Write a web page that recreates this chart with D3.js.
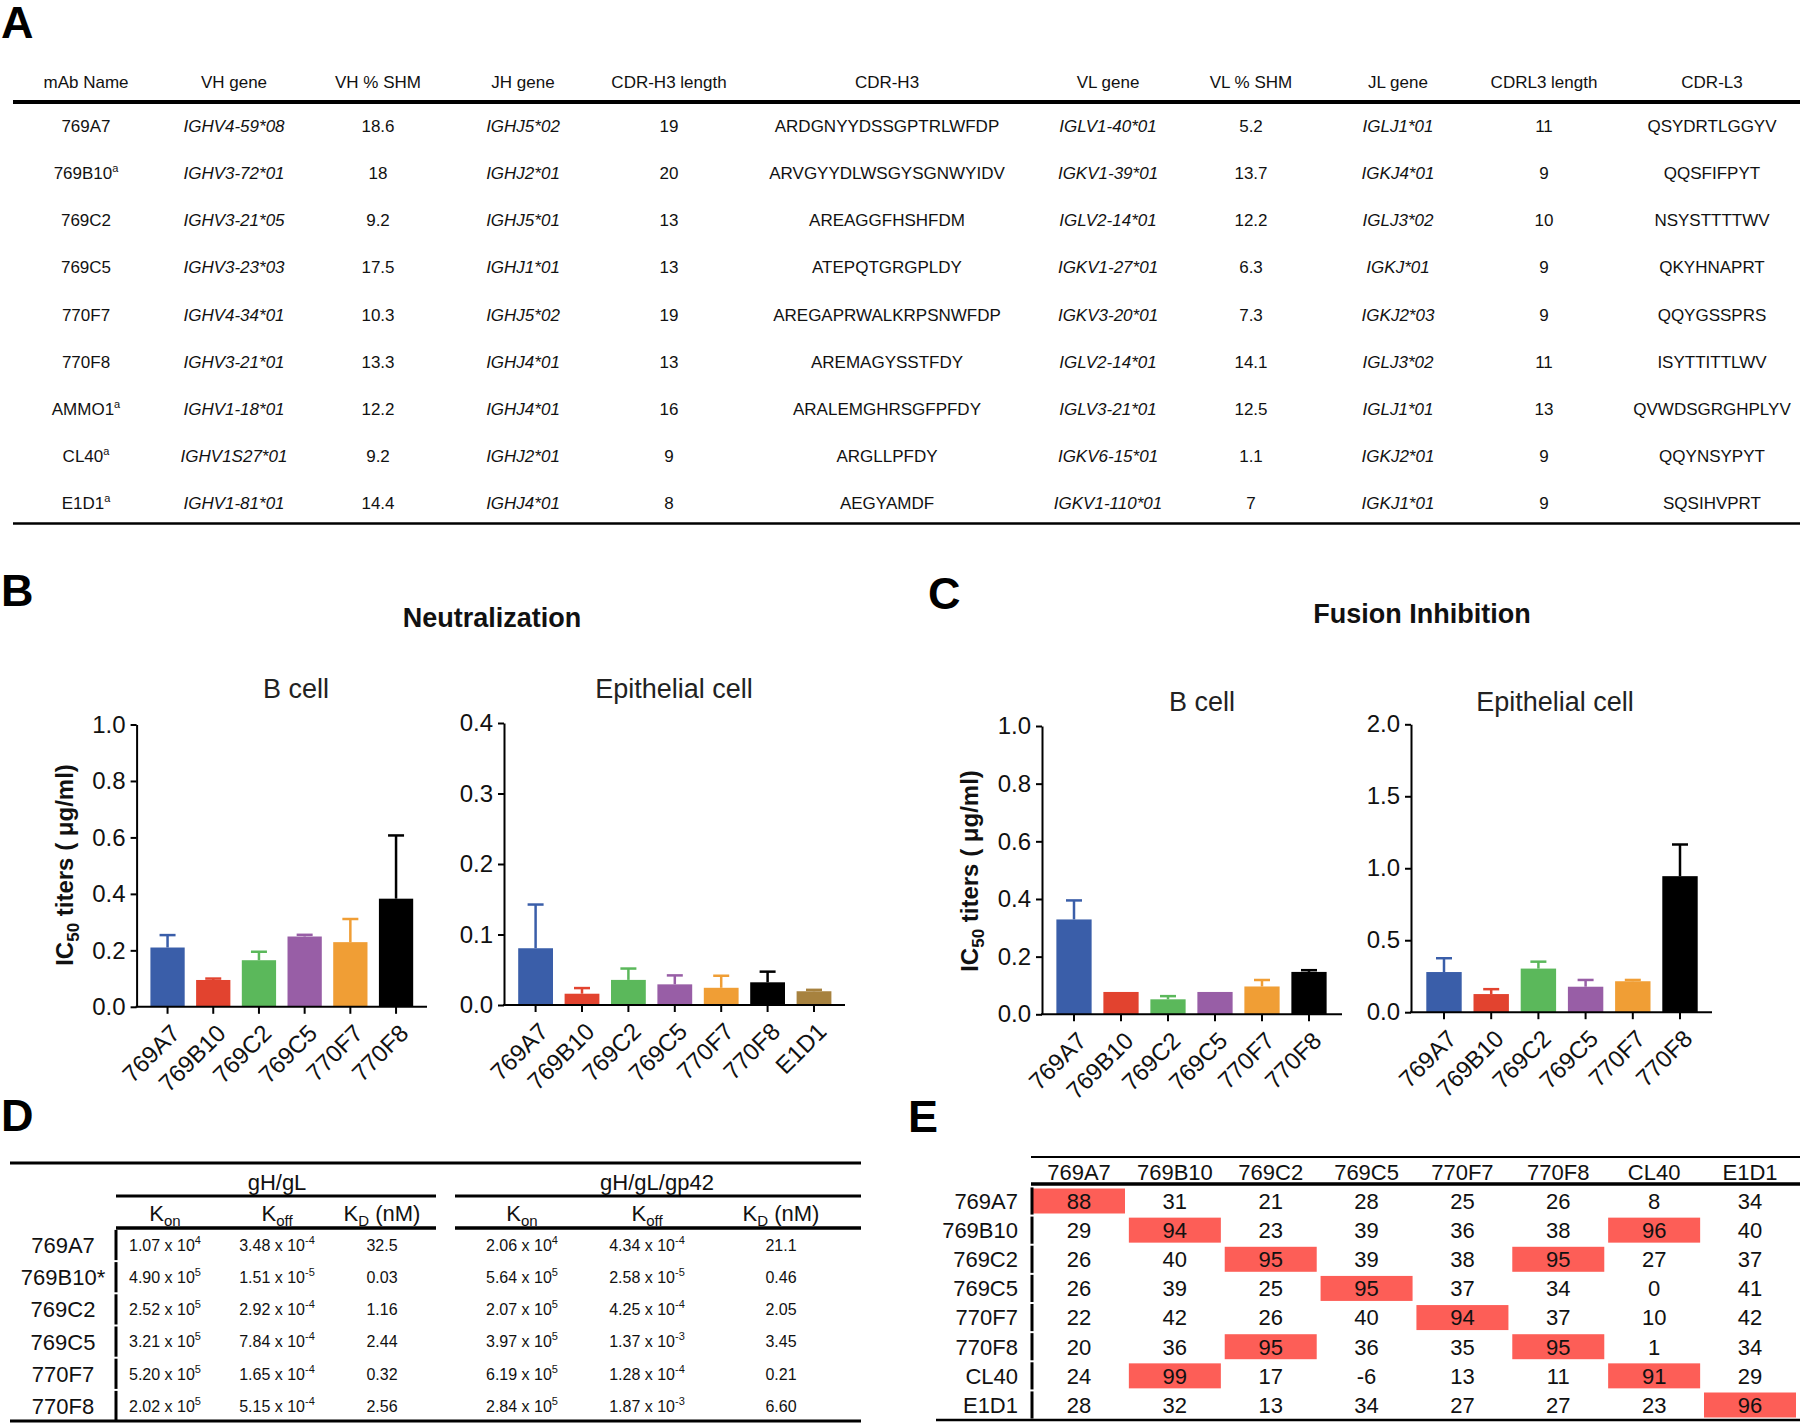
<!DOCTYPE html>
<html>
<head>
<meta charset="utf-8">
<script src="https://cdn.jsdelivr.net/npm/d3@7"></script>
<style>
  body { margin: 0; background: #fff; }
  svg { display: block; font-family: "Liberation Sans", Arial, sans-serif; }
</style>
</head>
<body>
<div id="fig"></div>
<script>
// ---- panel A: antibody gene usage ----
const mabNames = ['769A7', '769B10', '769C2', '769C5', '770F7', '770F8', 'AMMO1', 'CL40', 'E1D1'];
const mabFootnote = [false, true, false, false, false, false, true, true, true];
const vhGene = ['IGHV4-59*08', 'IGHV3-72*01', 'IGHV3-21*05', 'IGHV3-23*03', 'IGHV4-34*01', 'IGHV3-21*01', 'IGHV1-18*01', 'IGHV1S27*01', 'IGHV1-81*01'];
const vhShm = ['18.6', '18', '9.2', '17.5', '10.3', '13.3', '12.2', '9.2', '14.4'];
const jhGene = ['IGHJ5*02', 'IGHJ2*01', 'IGHJ5*01', 'IGHJ1*01', 'IGHJ5*02', 'IGHJ4*01', 'IGHJ4*01', 'IGHJ2*01', 'IGHJ4*01'];
const cdrh3Length = [19, 20, 13, 13, 19, 13, 16, 9, 8];
const cdrh3 = ['ARDGNYYDSSGPTRLWFDP', 'ARVGYYDLWSGYSGNWYIDV', 'AREAGGFHSHFDM', 'ATEPQTGRGPLDY', 'AREGAPRWALKRPSNWFDP', 'AREMAGYSSTFDY', 'ARALEMGHRSGFPFDY', 'ARGLLPFDY', 'AEGYAMDF'];
const vlGene = ['IGLV1-40*01', 'IGKV1-39*01', 'IGLV2-14*01', 'IGKV1-27*01', 'IGKV3-20*01', 'IGLV2-14*01', 'IGLV3-21*01', 'IGKV6-15*01', 'IGKV1-110*01'];
const vlShm = ['5.2', '13.7', '12.2', '6.3', '7.3', '14.1', '12.5', '1.1', '7'];
const jlGene = ['IGLJ1*01', 'IGKJ4*01', 'IGLJ3*02', 'IGKJ*01', 'IGKJ2*03', 'IGLJ3*02', 'IGLJ1*01', 'IGKJ2*01', 'IGKJ1*01'];
const cdrl3Length = [11, 9, 10, 9, 9, 11, 13, 9, 9];
const cdrl3 = ['QSYDRTLGGYV', 'QQSFIFPYT', 'NSYSTTTTWV', 'QKYHNAPRT', 'QQYGSSPRS', 'ISYTTITTLWV', 'QVWDSGRGHPLYV', 'QQYNSYPYT', 'SQSIHVPRT'];
const tableAHeaders = ['mAb Name', 'VH gene', 'VH %  SHM', 'JH gene', 'CDR-H3 length', 'CDR-H3', 'VL gene', 'VL % SHM', 'JL gene', 'CDRL3 length', 'CDR-L3'];

// ---- panels B and C: IC50 titers (mean, sd) ----
const neutBCellMabs = ['769A7', '769B10', '769C2', '769C5', '770F7', '770F8'];
const neutBCellMean = [0.210, 0.095, 0.165, 0.249, 0.229, 0.383];
const neutBCellSd = [0.044, 0.005, 0.030, 0.006, 0.082, 0.224];
const neutEpiMabs = ['769A7', '769B10', '769C2', '769C5', '770F7', '770F8', 'E1D1'];
const neutEpiMean = [0.0805, 0.0160, 0.0356, 0.0293, 0.0244, 0.0322, 0.0195];
const neutEpiSd = [0.0620, 0.0080, 0.0161, 0.0127, 0.0171, 0.0151, 0.0020];
const fusBCellMabs = ['769A7', '769B10', '769C2', '769C5', '770F7', '770F8'];
const fusBCellMean = [0.329, 0.0775, 0.052, 0.0775, 0.0965, 0.147];
const fusBCellSd = [0.066, 0, 0.011, 0, 0.0225, 0.006];
const fusEpiMabs = ['769A7', '769B10', '769C2', '769C5', '770F7', '770F8'];
const fusEpiMean = [0.279, 0.126, 0.303, 0.177, 0.215, 0.945];
const fusEpiSd = [0.096, 0.034, 0.048, 0.047, 0.009, 0.220];

const mabColours = {
    '769A7': '#3a5ea9',
    '769B10': '#e2432f',
    '769C2': '#5bb85b',
    '769C5': '#985ea6',
    '770F7': '#f09e35',
    '770F8': '#000000',
    'E1D1': '#a7823f',
};

// ---- panel D: binding kinetics ----
const kineticsMabs = ['769A7', '769B10*', '769C2', '769C5', '770F7', '770F8'];
const ghglKon = [['1.07', 4], ['4.90', 5], ['2.52', 5], ['3.21', 5], ['5.20', 5], ['2.02', 5]];
const ghglKoff = [['3.48', -4], ['1.51', -5], ['2.92', -4], ['7.84', -4], ['1.65', -4], ['5.15', -4]];
const ghglKd = ['32.5', '0.03', '1.16', '2.44', '0.32', '2.56'];
const gp42Kon = [['2.06', 4], ['5.64', 5], ['2.07', 5], ['3.97', 5], ['6.19', 5], ['2.84', 5]];
const gp42Koff = [['4.34', -4], ['2.58', -5], ['4.25', -4], ['1.37', -3], ['1.28', -4], ['1.87', -3]];
const gp42Kd = ['21.1', '0.46', '2.05', '3.45', '0.21', '6.60'];

// ---- panel E: competition matrix ----
const competitionMabs = ['769A7', '769B10', '769C2', '769C5', '770F7', '770F8', 'CL40', 'E1D1'];
const competitionValues = [
    [88, 31, 21, 28, 25, 26, 8, 34],
    [29, 94, 23, 39, 36, 38, 96, 40],
    [26, 40, 95, 39, 38, 95, 27, 37],
    [26, 39, 25, 95, 37, 34, 0, 41],
    [22, 42, 26, 40, 94, 37, 10, 42],
    [20, 36, 95, 36, 35, 95, 1, 34],
    [24, 99, 17, -6, 13, 11, 91, 29],
    [28, 32, 13, 34, 27, 27, 23, 96],
];

const svg = d3.select('#fig').append('svg')
    .attr('width', 1800)
    .attr('height', 1427);

// text centred vertically on y (cap-height centre)
function label(parent, x, y, str, size, anchor = 'middle') {
    return parent.append('text')
        .attr('x', x)
        .attr('y', y + size * 0.36)
        .attr('font-size', size)
        .attr('text-anchor', anchor)
        .attr('fill', '#111')
        .text(str);
}

function hline(parent, x1, x2, y, w) {
    parent.append('line')
        .attr('x1', x1).attr('x2', x2).attr('y1', y).attr('y2', y)
        .attr('stroke', '#000').attr('stroke-width', w);
}

function panelLetter(letter, x, y) {
    svg.append('text')
        .attr('x', x).attr('y', y)
        .attr('font-size', 45)
        .attr('font-weight', 'bold')
        .text(letter);
}

// ================= A =================
function drawTableA() {
    const g = svg.append('g');
    const colX = [86, 234, 378, 523, 669, 887, 1108, 1251, 1398, 1544, 1712];
    const rowY = d3.scalePoint().domain(mabNames).range([126, 503]);
    const fs = 17;

    tableAHeaders.forEach((h, i) => label(g, colX[i], 81.5, h, fs));
    hline(g, 13, 1800, 102, 4);

    const columns = [null, vhGene, vhShm, jhGene, cdrh3Length, cdrh3, vlGene, vlShm, jlGene, cdrl3Length, cdrl3];
    const italicCols = new Set([1, 3, 6, 8]);

    mabNames.forEach((name, r) => {
        const y = rowY(name);
        const nameText = label(g, colX[0], y, name, fs);
        if (mabFootnote[r]) {
            nameText.append('tspan').attr('dy', -7).attr('font-size', 11).text('a');
        }
        columns.forEach((col, c) => {
            if (!col) return;
            const t = label(g, colX[c], y, col[r], fs);
            if (italicCols.has(c)) t.attr('font-style', 'italic');
        });
    });
    hline(g, 13, 1800, 523.5, 2.5);
}

// ================= B / C bar charts =================
function barChart(opts) {
    const g = svg.append('g');
    const y = d3.scaleLinear().domain([0, opts.yMax]).range([opts.yBottom, opts.yTop]);
    const x = d3.scaleBand().domain(opts.names).range(opts.bandRange)
        .paddingInner(0.25).paddingOuter(0.125);

    const data = opts.names.map((n, i) => ({ name: n, mean: opts.means[i], sd: opts.sds[i] }));

    g.selectAll('.bar').data(data).enter().append('rect')
        .attr('class', 'bar')
        .attr('x', d => x(d.name))
        .attr('width', x.bandwidth())
        .attr('y', d => y(d.mean))
        .attr('height', d => opts.yBottom - y(d.mean))
        .attr('fill', d => mabColours[d.name]);

    const err = g.selectAll('.err').data(data.filter(d => d.sd > 0)).enter().append('g')
        .attr('class', 'err')
        .attr('stroke', d => mabColours[d.name])
        .attr('stroke-width', 2.5);
    err.append('line')
        .attr('x1', d => x(d.name) + x.bandwidth() / 2)
        .attr('x2', d => x(d.name) + x.bandwidth() / 2)
        .attr('y1', d => y(d.mean))
        .attr('y2', d => y(d.mean + d.sd));
    err.append('line')
        .attr('x1', d => x(d.name) + x.bandwidth() / 2 - 8)
        .attr('x2', d => x(d.name) + x.bandwidth() / 2 + 8)
        .attr('y1', d => y(d.mean + d.sd))
        .attr('y2', d => y(d.mean + d.sd));

    const yAxis = g.append('g')
        .attr('transform', `translate(${opts.axisX},0)`)
        .call(d3.axisLeft(y).tickValues(opts.ticks).tickFormat(d3.format('.1f'))
            .tickSize(6).tickPadding(5).tickSizeOuter(0));
    yAxis.select('.domain').attr('stroke-width', 2);
    yAxis.selectAll('.tick line').attr('stroke-width', 2);
    yAxis.selectAll('.tick text').attr('font-size', 24).attr('fill', '#111')
        .attr('font-family', null);

    const xAxis = g.append('g')
        .attr('transform', `translate(0,${opts.yBottom})`)
        .call(d3.axisBottom(x).tickSize(7).tickSizeOuter(0));
    xAxis.select('.domain').remove();
    xAxis.selectAll('.tick line').attr('stroke-width', 2);
    xAxis.selectAll('.tick text')
        .attr('font-size', 24)
        .attr('font-family', null)
        .attr('fill', '#111')
        .attr('text-anchor', 'end')
        .attr('dy', null)
        .attr('y', 0)
        .attr('dominant-baseline', 'central')
        .attr('transform', 'translate(8,22) rotate(-45)');
    hline(g, opts.axisX - 1, opts.axisEnd, opts.yBottom, 2);

    label(g, opts.titleX, opts.titleY, opts.title, 27).attr('fill', '#222');

    if (opts.yLabelX) {
        const t = g.append('text')
            .attr('transform', `translate(${opts.yLabelX},${opts.yLabelY}) rotate(-90)`)
            .attr('text-anchor', 'middle')
            .attr('font-size', 24)
            .attr('font-weight', 'bold')
            .attr('fill', '#111');
        t.append('tspan').text('IC');
        t.append('tspan').attr('dy', 6).attr('font-size', 17).text('50');
        t.append('tspan').attr('dy', -6).text(' titers ( \u03bcg/ml)');
    }
}

// ================= D =================
function sciText(parent, x, y, pair, size) {
    const t = label(parent, x, y, `${pair[0]} x 10`, size);
    t.append('tspan').attr('dy', -7).attr('font-size', 11).text(pair[1]);
    return t;
}

function drawKinetics() {
    const g = svg.append('g');
    const rowY = d3.scalePoint().domain(kineticsMabs).range([1245, 1406]);
    const step = rowY.step();
    const colX = [165, 277, 382, 522, 647, 781];
    const lineX = 116;

    hline(g, 10, 861, 1163, 3);
    label(g, 277, 1182, 'gH/gL', 22);
    label(g, 657, 1182, 'gH/gL/gp42', 22);
    hline(g, lineX, 436, 1196, 3);
    hline(g, 455, 861, 1196, 3);

    const subHeads = [['K', 'on', ''], ['K', 'off', ''], ['K', 'D', ' (nM)']];
    colX.forEach((x, i) => {
        const [base, sub, tail] = subHeads[i % 3];
        const t = label(g, x, 1213, base, 22);
        t.append('tspan').attr('dy', 5).attr('font-size', 15).text(sub);
        if (tail) t.append('tspan').attr('dy', -5).text(tail);
    });
    hline(g, lineX, 436, 1228, 3.5);
    hline(g, 455, 861, 1228, 3.5);

    kineticsMabs.forEach((m, r) => {
        const y = rowY(m);
        label(g, 63, y, m, 22);
        g.append('line')
            .attr('x1', lineX).attr('x2', lineX)
            .attr('y1', y - step / 2 + 1).attr('y2', y + step / 2 - 1)
            .attr('stroke', '#000').attr('stroke-width', 3);
        sciText(g, colX[0], y, ghglKon[r], 16);
        sciText(g, colX[1], y, ghglKoff[r], 16);
        label(g, colX[2], y, ghglKd[r], 16);
        sciText(g, colX[3], y, gp42Kon[r], 16);
        sciText(g, colX[4], y, gp42Koff[r], 16);
        label(g, colX[5], y, gp42Kd[r], 16);
    });
    hline(g, 10, 861, 1421, 3);
}

// ================= E =================
function drawCompetition() {
    const g = svg.append('g');
    const colX = d3.scalePoint().domain(competitionMabs).range([1079, 1750]);
    const rowY = d3.scalePoint().domain(competitionMabs).range([1201, 1405]);
    const step = rowY.step();
    const lineX = 1032;

    hline(g, 1031, 1800, 1157, 2);
    competitionMabs.forEach(m => label(g, colX(m), 1172, m, 22));
    hline(g, 1031, 1800, 1184, 3.5);

    const cells = [];
    competitionValues.forEach((row, r) => row.forEach((v, c) => cells.push({
        row: competitionMabs[r], col: competitionMabs[c], value: v,
    })));

    g.selectAll('.hit').data(cells.filter(d => d.value >= 80)).enter().append('rect')
        .attr('class', 'hit')
        .attr('x', d => colX(d.col) - 46)
        .attr('y', d => rowY(d.row) - 12.5)
        .attr('width', 92)
        .attr('height', 25)
        .attr('fill', '#fd5e57');

    competitionMabs.forEach(m => {
        const y = rowY(m);
        label(g, 1018, y, m, 22, 'end');
        g.append('line')
            .attr('x1', lineX).attr('x2', lineX)
            .attr('y1', y - step / 2 + 1).attr('y2', y + step / 2 - 1)
            .attr('stroke', '#000').attr('stroke-width', 3);
    });
    cells.forEach(d => label(g, colX(d.col), rowY(d.row), String(d.value), 22));

    hline(g, 936, 1800, 1420, 2.5);
}

panelLetter('A', 1, 38);
drawTableA();

panelLetter('B', 1, 606);
label(svg, 492, 617, 'Neutralization', 27).attr('font-weight', 'bold');
barChart({
    names: neutBCellMabs, means: neutBCellMean, sds: neutBCellSd,
    yMax: 1.0, ticks: [0, 0.2, 0.4, 0.6, 0.8, 1.0],
    axisX: 136.6, axisEnd: 427, yBottom: 1006.8, yTop: 724.5,
    bandRange: [144.7, 418.9],
    title: 'B cell', titleX: 296, titleY: 688,
    yLabelX: 73, yLabelY: 865,
});
barChart({
    names: neutEpiMabs, means: neutEpiMean, sds: neutEpiSd,
    yMax: 0.4, ticks: [0, 0.1, 0.2, 0.3, 0.4],
    axisX: 504, axisEnd: 845, yBottom: 1005, yTop: 723,
    bandRange: [512.4, 837.2],
    title: 'Epithelial cell', titleX: 674, titleY: 688,
});

panelLetter('C', 928, 609);
label(svg, 1422, 613, 'Fusion Inhibition', 27).attr('font-weight', 'bold');
barChart({
    names: fusBCellMabs, means: fusBCellMean, sds: fusBCellSd,
    yMax: 1.0, ticks: [0, 0.2, 0.4, 0.6, 0.8, 1.0],
    axisX: 1042, axisEnd: 1342, yBottom: 1014.3, yTop: 726,
    bandRange: [1050.5, 1332.5],
    title: 'B cell', titleX: 1202, titleY: 701,
    yLabelX: 978, yLabelY: 871,
});
barChart({
    names: fusEpiMabs, means: fusEpiMean, sds: fusEpiSd,
    yMax: 2.0, ticks: [0, 0.5, 1.0, 1.5, 2.0],
    axisX: 1411, axisEnd: 1712, yBottom: 1012.2, yTop: 724.3,
    bandRange: [1420.4, 1703.6],
    title: 'Epithelial cell', titleX: 1555, titleY: 701,
});

panelLetter('D', 1, 1131);
drawKinetics();

panelLetter('E', 908, 1132);
drawCompetition();
</script>
</body>
</html>
